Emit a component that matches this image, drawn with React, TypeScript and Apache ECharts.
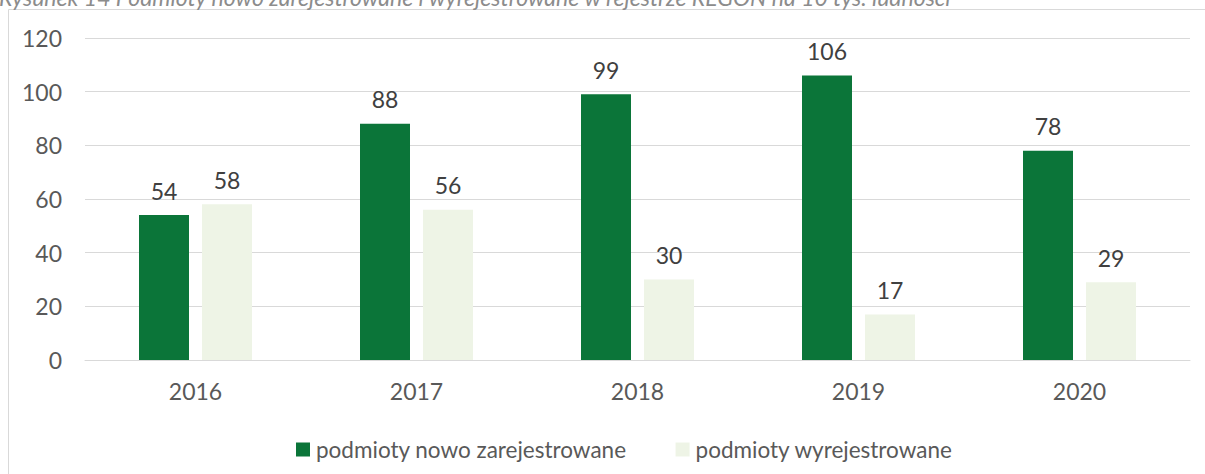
import React, { useEffect, useRef } from "react";
import * as echarts from "echarts";

const categories = ["2016", "2017", "2018", "2019", "2020"];
const newlyRegistered = [54, 88, 99, 106, 78];
const deregistered = [58, 56, 30, 17, 29];
const seriesNames = ["podmioty nowo zarejestrowane", "podmioty wyrejestrowane"];
const titleText = "Rysunek 14 Podmioty nowo zarejestrowane i wyrejestrowane w rejestrze REGON na 10 tys. ludności";

const FONT = "Lato, sans-serif";

export default function App() {
  const ref = useRef<HTMLDivElement>(null);
  useEffect(() => {
    document.body.style.margin = "0";
    const chart = echarts.init(ref.current!, null, { renderer: "svg" });
    chart.setOption({
      animation: false,
      backgroundColor: "#ffffff",
      textStyle: { fontFamily: FONT },
      graphic: [
        {
          type: "rect",
          shape: { x: 8.5, y: 9.5, width: 1300, height: 600 },
          style: { fill: "none", stroke: "#d9d9d9", lineWidth: 1 },
          silent: true,
        },
        {
          type: "text",
          x: -1,
          y: 8,
          style: {
            text: titleText,
            font: "italic 23px " + FONT,
            fill: "#8c8c8c",
            verticalAlign: "bottom",
          },
        },
      ],
      grid: { left: 85, right: 15, top: 38, bottom: 114, containLabel: false },
      legend: {
        top: 433,
        left: 291,
        itemWidth: 14,
        itemHeight: 14,
        itemGap: 49,
        icon: "rect",
        textStyle: { fontSize: 22.5, color: "#595959", fontFamily: FONT, padding: [0, 0, 0, 1] },
        data: seriesNames,
      },
      xAxis: {
        type: "category",
        data: categories,
        axisLine: { lineStyle: { color: "#d9d9d9", width: 1 } },
        axisTick: { show: false },
        axisLabel: { fontSize: 23, color: "#595959", margin: 19, fontFamily: FONT },
      },
      yAxis: {
        type: "value",
        min: 0,
        max: 120,
        interval: 20,
        axisLine: { show: false },
        axisTick: { show: false },
        splitLine: { lineStyle: { color: "#d9d9d9", width: 1 } },
        axisLabel: { fontSize: 23, color: "#595959", margin: 23, fontFamily: FONT },
      },
      series: [
        {
          name: seriesNames[0],
          type: "bar",
          data: newlyRegistered,
          barWidth: 50,
          barGap: "26%",
          itemStyle: { color: "#0b7539" },
          label: { show: true, position: "top", distance: 13, fontSize: 23, color: "#404040", fontFamily: FONT },
        },
        {
          name: seriesNames[1],
          type: "bar",
          data: deregistered,
          barWidth: 50,
          itemStyle: { color: "#eef4e6" },
          label: { show: true, position: "top", distance: 13, fontSize: 23, color: "#404040", fontFamily: FONT },
        },
      ],
    });
    return () => chart.dispose();
  }, []);
  return <div ref={ref} style={{ width: 1205, height: 474 }} />;
}
